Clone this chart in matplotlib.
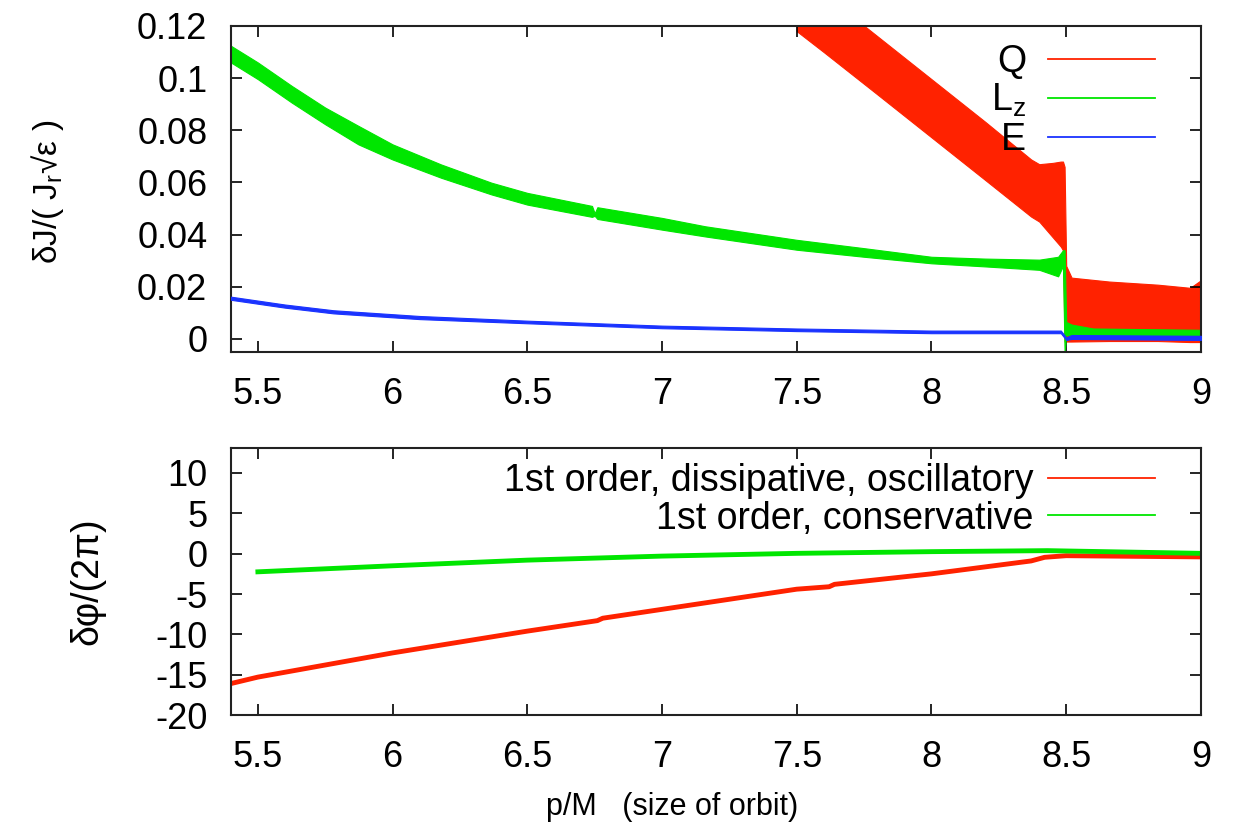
import matplotlib
matplotlib.use("Agg")
import matplotlib.pyplot as plt
from matplotlib.lines import Line2D

plt.rcParams['font.family'] = ['Liberation Sans', 'DejaVu Sans']
plt.rcParams['mathtext.default'] = 'regular'

#------ TOP PANEL DATA: dJ/(J_r sqrt(eps)), bands read as lower/upper envelope ------#
q_x  = [7.50, 7.60, 7.80, 8.00, 8.20, 8.37, 8.40, 8.45, 8.480, 8.488, 8.494, 8.500, 8.52, 8.66, 8.84, 8.96, 9.00]
q_lo = [0.118, 0.110, 0.0937, 0.0773, 0.0609, 0.0469, 0.045, 0.039, 0.0354, 0.034, -0.001, -0.001, -0.001, -0.0008, -0.0008, -0.0012, -0.0012]
q_hi = [0.1406, 0.1324, 0.116, 0.0996, 0.0832, 0.0688, 0.067, 0.0675, 0.068, 0.068, 0.066, 0.028, 0.0235, 0.022, 0.0208, 0.0196, 0.0225]

lz_x  = [5.40, 5.50, 5.626, 5.75, 5.873, 6.00, 6.18, 6.367, 6.50, 6.74, 6.75, 6.76, 7.00, 7.16, 7.50, 7.75, 8.00, 8.20,
         8.40, 8.47, 8.488, 8.494, 8.50, 8.52, 8.60, 9.00]
lz_lo = [0.1060, 0.0996, 0.0906, 0.0823, 0.0746, 0.0688, 0.0618, 0.0554, 0.0515, 0.0468, 0.0472, 0.0460, 0.0419, 0.0393,
         0.0342, 0.0315, 0.0290, 0.0278, 0.0265, 0.0240, 0.0280, -0.005, 0.0015, 0.0015, 0.0015, 0.0015]
lz_hi = [0.1124, 0.1060, 0.0970, 0.0887, 0.0817, 0.0746, 0.0669, 0.0599, 0.0560, 0.0510, 0.0482, 0.0505, 0.0464, 0.0432,
         0.0380, 0.0348, 0.0315, 0.0308, 0.0304, 0.0315, 0.0340, 0.0340, 0.0065, 0.0055, 0.0040, 0.0035]

e_x  = [5.40, 5.60, 5.78, 6.10, 6.50, 7.00, 7.50, 8.00, 8.48, 8.50, 8.52, 9.00]
e_lo = [0.0150, 0.0120, 0.0098, 0.0076, 0.0060, 0.0041, 0.0030, 0.0022, 0.0022, -0.0004, 0.0000, -0.0004]
e_hi = [0.0162, 0.0132, 0.0110, 0.0088, 0.0070, 0.0051, 0.0040, 0.0032, 0.0032, 0.0006, 0.0015, 0.0012]

#------ BOTTOM PANEL DATA: dphi/(2pi) ------#
diss_x = [5.40, 5.50, 6.00, 6.50, 6.76, 6.78, 7.00, 7.50, 7.62, 7.64, 8.00, 8.37, 8.42, 8.50, 9.00]
diss_y = [-16.1, -15.3, -12.3, -9.6, -8.3, -8.0, -6.9, -4.4, -4.1, -3.8, -2.5, -0.9, -0.45, -0.25, -0.4]

cons_x = [5.50, 6.00, 6.50, 7.00, 7.50, 8.00, 8.43, 9.00]
cons_y = [-2.25, -1.5, -0.8, -0.3, 0.04, 0.25, 0.375, 0.04]

x_ticks = [5.5, 6, 6.5, 7, 7.5, 8, 8.5, 9]
x_labels = ['5.5', '6', '6.5', '7', '7.5', '8', '8.5', '9']
top_yticks = [0, 0.02, 0.04, 0.06, 0.08, 0.1, 0.12]
top_ylabels = ['0', '0.02', '0.04', '0.06', '0.08', '0.1', '0.12']
bot_yticks = [-20, -15, -10, -5, 0, 5, 10]
bot_ylabels = ['-20', '-15', '-10', '-5', '0', '5', '10']

red = '#ff2200'
green = '#00e600'
blue = '#1a33ff'

fig = plt.figure(figsize=(12.35, 8.27), dpi=100)
ax1 = fig.add_axes([0.187, 0.5744, 0.7854, 0.3942])
ax2 = fig.add_axes([0.187, 0.1354, 0.7854, 0.3229])

#------ TOP ------#
ax1.fill_between(e_x, e_lo, e_hi, color=blue, lw=0.8, zorder=3)
ax1.fill_between(lz_x, lz_lo, lz_hi, color=green, lw=0.8, zorder=2)
ax1.fill_between(q_x, q_lo, q_hi, color=red, lw=0.8, zorder=1)
ax1.set_xlim(5.4, 9)
ax1.set_ylim(-0.005, 0.12)
ax1.set_yticks(top_yticks)
ax1.set_yticklabels(top_ylabels)
ax1.set_ylabel(r'δJ/( J$_{r}$√ε )', fontsize=24)
ax1.yaxis.set_label_coords(-0.170, 0.49)

h1 = [Line2D([], [], color=red, lw=1.3), Line2D([], [], color=green, lw=1.3), Line2D([], [], color=blue, lw=1.3)]
ax1.legend(h1, ['Q', r'L$_{z}$', 'E'], loc='upper right', bbox_to_anchor=(0.953, 0.945),
           markerfirst=False, frameon=False, fontsize=27, handlelength=2.85,
           handletextpad=0.6, labelspacing=0.06, borderpad=0, borderaxespad=0)

#------ BOTTOM ------#
ax2.plot(diss_x, diss_y, color=red, lw=3.5)
ax2.plot(cons_x, cons_y, color=green, lw=3.5)
ax2.set_xlim(5.4, 9)
ax2.set_ylim(-20, 13.1)
ax2.set_yticks(bot_yticks)
ax2.set_yticklabels(bot_ylabels)
ax2.set_ylabel('δφ/(2π)', fontsize=27)
ax2.yaxis.set_label_coords(-0.129, 0.5)
ax2.set_xlabel('p/M   (size of orbit)', fontsize=22)
ax2.xaxis.set_label_coords(0.455, -0.29)

h2 = [Line2D([], [], color=red, lw=1.3), Line2D([], [], color=green, lw=1.3)]
ax2.legend(h2, ['1st order, dissipative, oscillatory', '1st order, conservative'], loc='upper right',
           bbox_to_anchor=(0.953, 0.945), markerfirst=False, frameon=False, fontsize=27,
           handlelength=2.85, handletextpad=0.4, labelspacing=0.05, borderpad=0, borderaxespad=0)

for ax in (ax1, ax2):
    ax.set_xticks(x_ticks)
    ax.set_xticklabels(x_labels)
    ax.tick_params(direction='in', top=True, right=True, length=8, width=1.2, labelsize=26)
    ax.tick_params(axis='x', pad=18)
    ax.tick_params(axis='y', pad=17)
    for s in ax.spines.values():
        s.set_linewidth(1.5)
        s.set_color('#222222')

plt.savefig('out.png', dpi=100)
